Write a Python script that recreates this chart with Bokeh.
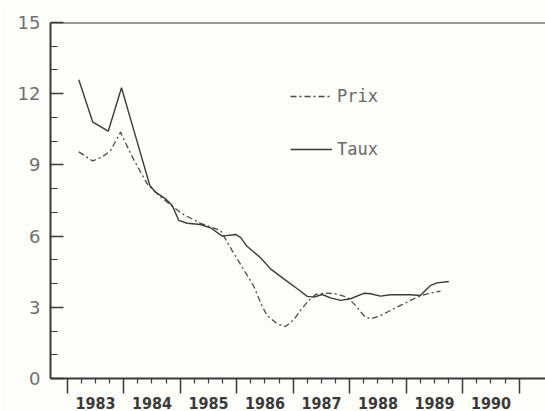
from bokeh.plotting import figure
from bokeh.models import Range1d, LinearAxis, FixedTicker, Span, Legend, LegendItem
from bokeh.embed import file_html
from bokeh.resources import INLINE

# ---- data -------------------------------------------------------------
YEARS = [1983, 1984, 1985, 1986, 1987, 1988, 1989, 1990]
YEAR_LABELS = ["1983", "1984", "1985", "1986", "1987", "1988", "1989", "1990"]
Y_TICKS = [0, 3, 6, 9, 12, 15]
Y_MINOR = [1, 2, 4, 5, 7, 8, 10, 11, 13, 14]
X_START, X_END = 1982.704, 1991.465
Y_MIN, Y_MAX = 0, 15

TAUX_X = [1983.205, 1983.453, 1983.726, 1983.961, 1984.214, 1984.462, 1984.563,
          1984.740, 1984.858, 1984.975, 1985.124, 1985.359, 1985.536, 1985.743,
          1985.979, 1986.067, 1986.186, 1986.421, 1986.598, 1986.834, 1987.071,
          1987.248, 1987.365, 1987.513, 1987.660, 1987.837, 1988.014, 1988.250,
          1988.368, 1988.545, 1988.722, 1989.076, 1989.253, 1989.312, 1989.430,
          1989.549, 1989.754]
TAUX_Y = [12.59, 10.80, 10.42, 12.25, 10.17, 8.13, 7.85,
          7.57, 7.29, 6.66, 6.54, 6.49, 6.35, 6.00,
          6.07, 5.95, 5.56, 5.09, 4.62, 4.20, 3.78,
          3.46, 3.43, 3.54, 3.40, 3.29, 3.36, 3.59,
          3.57, 3.47, 3.53, 3.53, 3.50, 3.64, 3.92,
          4.03, 4.09]

PRIX_X = [1983.205, 1983.448, 1983.619, 1983.766, 1983.943, 1984.090, 1984.179,
          1984.267, 1984.416, 1984.593, 1984.770, 1985.035, 1985.359, 1985.713,
          1985.832, 1985.920, 1986.097, 1986.303, 1986.451, 1986.540, 1986.717,
          1986.864, 1987.011, 1987.129, 1987.248, 1987.395, 1987.572, 1987.749,
          1987.956, 1988.103, 1988.250, 1988.368, 1988.545, 1988.722, 1988.899,
          1989.076, 1989.195, 1989.372, 1989.607]
PRIX_Y = [9.55, 9.17, 9.33, 9.60, 10.38, 9.64, 9.21,
          8.84, 8.20, 7.78, 7.43, 6.94, 6.54, 6.24,
          5.75, 5.39, 4.69, 3.88, 3.04, 2.65, 2.30,
          2.19, 2.48, 2.87, 3.22, 3.54, 3.60, 3.57,
          3.43, 3.08, 2.65, 2.51, 2.65, 2.87, 3.08,
          3.29, 3.43, 3.57, 3.68]

SERIES_NAMES = ["Prix", "Taux"]

# ---- style ------------------------------------------------------------
BG = "#fdfdf9"
INK = "#3a3a3a"
LABEL_GREY = "#707070"

p = figure(width=545, height=411, output_backend="svg", toolbar_location=None,
           x_axis_type=None, y_axis_type=None,
           x_range=Range1d(X_START, X_END), y_range=Range1d(Y_MIN, Y_MAX),
           min_border_left=50, min_border_right=0, min_border_top=22,
           min_border_bottom=33,
           background_fill_color=BG, border_fill_color=BG,
           outline_line_color=None)

bounds = YEARS + [YEARS[-1] + 1]
quarters = [y + q / 4 for y in YEARS for q in (1, 2, 3)]
mids = [y + 0.5 for y in YEARS]

# year ticks and quarter ticks (no labels)
ax_ticks = LinearAxis(
    ticker=FixedTicker(ticks=bounds, minor_ticks=quarters),
    major_tick_in=0, major_tick_out=15, minor_tick_in=0, minor_tick_out=5,
    major_tick_line_color=INK, minor_tick_line_color=INK,
    major_tick_line_width=1.5, minor_tick_line_width=1.2,
    axis_line_color=INK, axis_line_width=2,
    major_label_text_font_size="1px", major_label_standoff=0,
    major_label_overrides={b: "" for b in bounds})
p.add_layout(ax_ticks, "below")

# year names centred between the year ticks
ax_labels = LinearAxis(
    ticker=FixedTicker(ticks=mids, minor_ticks=[]),
    major_tick_in=0, major_tick_out=0, minor_tick_in=0, minor_tick_out=0,
    major_tick_line_color=None, minor_tick_line_color=None,
    axis_line_color=None,
    major_label_overrides=dict(zip(mids, YEAR_LABELS)),
    major_label_text_font="DejaVu Sans Condensed",
    major_label_text_font_style="bold",
    major_label_text_font_size="16px",
    major_label_text_color=INK, major_label_standoff=3)
p.add_layout(ax_labels, "below")

ay = LinearAxis(
    ticker=FixedTicker(ticks=Y_TICKS, minor_ticks=Y_MINOR),
    major_tick_in=13, major_tick_out=0, minor_tick_in=7, minor_tick_out=0,
    major_tick_line_color=INK, minor_tick_line_color=INK,
    major_tick_line_width=1.5, minor_tick_line_width=1.2,
    axis_line_color=INK, axis_line_width=2,
    major_label_standoff=10,
    major_label_text_font="DejaVu Sans",
    major_label_text_font_size="18px",
    major_label_text_color=LABEL_GREY)
p.add_layout(ay, "left")

p.add_layout(Span(location=Y_MAX, dimension="width", line_color=INK,
                  line_width=2))

r_prix = p.line(PRIX_X, PRIX_Y, line_color="#4a4a4a", line_width=1.3,
                line_dash="6 3 2 3")
r_taux = p.line(TAUX_X, TAUX_Y, line_color=INK, line_width=1.4)

legend = Legend(
    items=[LegendItem(label=SERIES_NAMES[0], renderers=[r_prix]),
           LegendItem(label=SERIES_NAMES[1], renderers=[r_taux])],
    location=(240, 219), orientation="vertical",
    background_fill_alpha=0, border_line_color=None,
    padding=0, margin=0, spacing=33,
    glyph_width=42, glyph_height=20, label_height=20, label_standoff=5,
    label_text_font="DejaVu Sans Mono", label_text_font_size="17px",
    label_text_color="#6a6a6a")
p.add_layout(legend)

open("out.html", "w").write(file_html(p, INLINE))
